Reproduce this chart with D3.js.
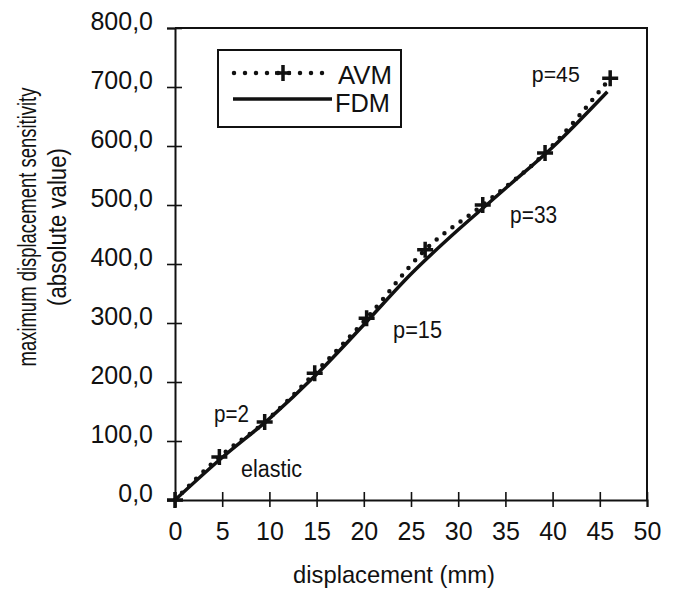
<!DOCTYPE html>
<html>
<head>
<meta charset="utf-8">
<script src="https://cdn.jsdelivr.net/npm/d3@7"></script>
<style>
  body { margin: 0; background: #fff; }
  svg text { font-family: "Liberation Sans", Arial, sans-serif; fill: #111; }
</style>
</head>
<body>
<div id="root"></div>
<script>
// AVM results (marker points, one per load step p)
const avmDisp = [0, 4.7, 9.5, 14.8, 20.3, 26.5, 32.6, 39.2, 46.1];
const avmSens = [0, 73, 132, 215, 308, 424, 500, 588, 715];

// FDM results
const fdmDisp = [0, 5, 10, 15, 20, 25, 30, 33, 35, 40, 45.8];
const fdmSens = [0, 72, 138, 213, 297, 383, 458, 500, 528, 598, 692];

const xTicks = [0, 5, 10, 15, 20, 25, 30, 35, 40, 45, 50];
const yTicks = [0, 100, 200, 300, 400, 500, 600, 700, 800];

// annotations (data coords, text baseline start)
const notes = [
    { t: 'p=2', x: 4.13, y: 132, len: 35 },
    { t: 'elastic', x: 7.0, y: 39, len: 61 },
    { t: 'p=15', x: 23.1, y: 275, len: 49 },
    { t: 'p=33', x: 35.5, y: 469, len: 47 },
    { t: 'p=45', x: 37.8, y: 708, len: 48 }
];

const width = 676;
const height = 589;
const margin = { top: 28, right: 29, bottom: 89, left: 175 };
const innerW = width - margin.left - margin.right;
const innerH = height - margin.top - margin.bottom;

const svg = d3.select('#root')
    .append('svg')
        .attr('width', width)
        .attr('height', height);

// squeeze a text node along its own direction to a wanted length
const fit = (sel, x0, y0, len, rot) => {
    const natural = sel.node().getComputedTextLength();
    sel.attr('transform', `translate(${x0}, ${y0})${rot ? ` rotate(${rot})` : ''} scale(${len / natural}, 1)`);
};

const g = svg.append('g')
    .attr('transform', `translate(${margin.left}, ${margin.top})`);

const x = d3.scaleLinear().domain([0, 50]).range([0, innerW]);
const y = d3.scaleLinear().domain([0, 800]).range([innerH, 0]);

// frame: top and right lines
g.append('path')
    .attr('d', `M0,0H${innerW}V${innerH}`)
    .attr('fill', 'none')
    .attr('stroke', '#111')
    .attr('stroke-width', 2);

// x axis
const xAxis = g.append('g')
    .attr('transform', `translate(0, ${innerH})`)
    .call(d3.axisBottom(x).tickValues(xTicks).tickSize(7).tickPadding(15).tickFormat(d3.format('d')));
xAxis.selectAll('.tick line').attr('y1', -8).attr('stroke-width', 1.6);
xAxis.select('.domain').attr('stroke-width', 2);
xAxis.selectAll('text').attr('font-size', 25).attr('font-family', '"Liberation Sans", Arial, sans-serif');

// y axis
const fmt = d => d3.format('.1f')(d).replace('.', ',');
const yAxis = g.append('g')
    .call(d3.axisLeft(y).tickValues(yTicks).tickSize(8).tickPadding(14).tickFormat(fmt));
yAxis.selectAll('.tick line').attr('x1', 7).attr('stroke-width', 1.6);
yAxis.select('.domain').attr('stroke-width', 2);
yAxis.selectAll('text').attr('font-size', 25).attr('dy', '0.06em')
    .attr('font-family', '"Liberation Sans", Arial, sans-serif');
g.selectAll('.domain, .tick line').attr('stroke', '#111');

const fdm = fdmDisp.map((d, i) => [d, fdmSens[i]]);
const avm = avmDisp.map((d, i) => [d, avmSens[i]]);

const line = d3.line().x(d => x(d[0])).y(d => y(d[1])).curve(d3.curveMonotoneX);

// FDM line
g.append('path')
    .datum(fdm)
    .attr('fill', 'none')
    .attr('stroke', '#111')
    .attr('stroke-width', 3.5)
    .attr('stroke-linejoin', 'round')
    .attr('d', line);

// AVM dotted line
g.append('path')
    .datum(avm)
    .attr('fill', 'none')
    .attr('stroke', '#111')
    .attr('stroke-width', 4.5)
    .attr('stroke-linecap', 'round')
    .attr('stroke-dasharray', '0,10')
    .attr('d', line);

const plus = 'M-8,0H8M0,-8V8';
g.selectAll('.avm-mark')
    .data(avm)
    .enter()
    .append('path')
        .attr('class', 'avm-mark')
        .attr('transform', d => `translate(${x(d[0])}, ${y(d[1])})`)
        .attr('d', plus)
        .attr('stroke', '#111')
        .attr('stroke-width', 3.5);

// annotations
g.selectAll('.note')
    .data(notes)
    .enter()
    .append('text')
        .attr('class', 'note')
        .attr('font-size', 23)
        .text(d => d.t)
        .each(function (d) {
            fit(d3.select(this), x(d.x), y(d.y), d.len);
        });

// legend
const leg = svg.append('g').attr('transform', 'translate(218, 50)');
leg.append('rect')
    .attr('width', 183).attr('height', 77)
    .attr('fill', '#fff')
    .attr('stroke', '#111')
    .attr('stroke-width', 2);
leg.append('line')
    .attr('x1', 16).attr('x2', 108).attr('y1', 23).attr('y2', 23)
    .attr('stroke', '#111').attr('stroke-width', 4.5)
    .attr('stroke-linecap', 'round').attr('stroke-dasharray', '0,11');
leg.append('path')
    .attr('transform', 'translate(65, 23)')
    .attr('d', plus)
    .attr('stroke', '#111').attr('stroke-width', 3.5);
leg.append('line')
    .attr('x1', 15).attr('x2', 114).attr('y1', 49).attr('y2', 49)
    .attr('stroke', '#111').attr('stroke-width', 3.5);
fit(leg.append('text').attr('font-size', 26).text('AVM'), 120, 34, 54);
fit(leg.append('text').attr('font-size', 26).text('FDM'), 117, 62, 55);

// axis titles
fit(svg.append('text')
    .attr('text-anchor', 'middle')
    .attr('font-size', 24)
    .text('displacement (mm)'), 394, 583, 202);

fit(svg.append('text')
    .attr('text-anchor', 'middle')
    .attr('font-size', 25)
    .text('maximum displacement sensitivity'), 36, 227, 279, -90);

fit(svg.append('text')
    .attr('text-anchor', 'middle')
    .attr('font-size', 25)
    .text('(absolute value)'), 66, 227, 158, -90);
</script>
</body>
</html>
